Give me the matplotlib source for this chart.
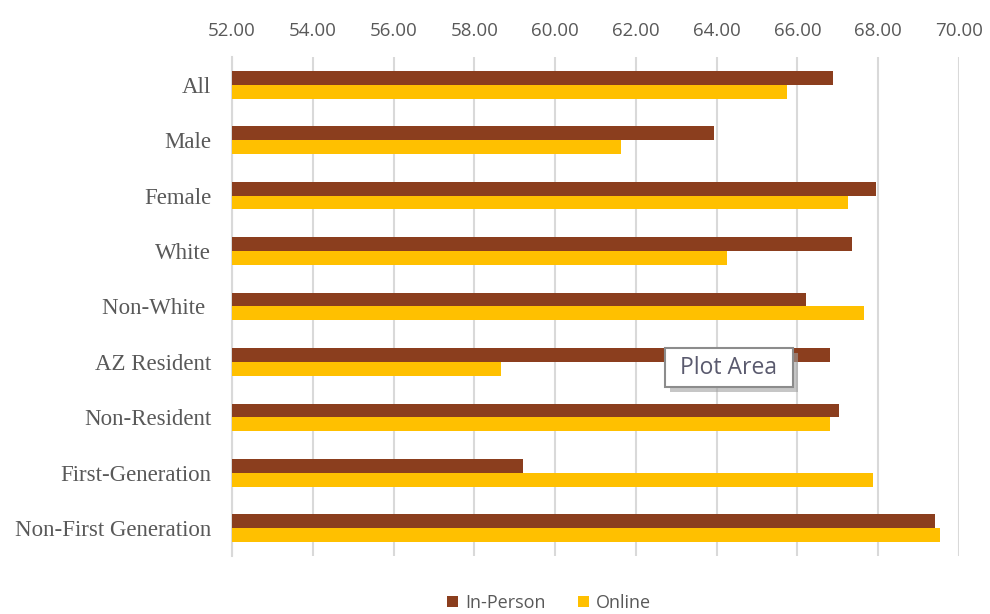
import matplotlib.pyplot as plt
from matplotlib.patches import Rectangle
import numpy as np

# data
categories = ['All', 'Male', 'Female', 'White', 'Non-White ', 'AZ Resident',
              'Non-Resident', 'First-Generation', 'Non-First Generation']
in_person = [66.87, 63.93, 67.94, 67.35, 66.22, 66.81, 67.02, 59.20, 69.41]
online = [65.75, 61.63, 67.25, 64.25, 67.66, 58.66, 66.81, 67.86, 69.52]
ticks = [52, 54, 56, 58, 60, 62, 64, 66, 68, 70]

C_IN = '#8B3E1E'
C_ON = '#FFC000'
C_TXT = '#595959'
C_GRID = '#D9D9D9'

W, H = 990, 614
fig = plt.figure(figsize=(W / 100, H / 100), dpi=100)
ax = fig.add_axes([232 / W, 58 / H, 727 / W, 499 / H])

y = np.arange(len(categories))
h = 0.25
ax.barh(y - h / 2, np.array(in_person) - 52, h, left=52, color=C_IN,
        label='In-Person', zorder=3)
ax.barh(y + h / 2, np.array(online) - 52, h, left=52, color=C_ON,
        label='Online', zorder=3)

ax.set_xlim(52, 70)
ax.set_ylim(len(categories) - 0.5, -0.5)
ax.set_xticks(ticks)
ax.set_xticklabels([f'{t:.2f}' for t in ticks], color=C_TXT,
                   fontsize=13.5, family='Open Sans')
ax.xaxis.tick_top()
ax.tick_params(axis='x', length=0, pad=12)
ax.set_yticks(y)
ax.set_yticklabels(categories, family='Liberation Serif', fontsize=16.5,
                   color=C_TXT)
ax.tick_params(axis='y', length=0, pad=15)
ax.grid(axis='x', color=C_GRID, linewidth=1.5, zorder=0)
for s in ['top', 'right', 'bottom']:
    ax.spines[s].set_visible(False)
ax.spines['left'].set_color(C_GRID)
ax.spines['left'].set_linewidth(1.5)

leg = fig.legend(loc='center', bbox_to_anchor=(549 / W, 1 - 603 / H),
                 ncol=2, frameon=False, handlelength=0.6, handleheight=0.6,
                 handletextpad=0.4, columnspacing=1.8,
                 prop={'family': 'Open Sans', 'size': 13})
for t in leg.get_texts():
    t.set_color(C_TXT)

# the "Plot Area" tooltip captured in the screenshot
bx, by, bw, bh = 665, 348, 128, 39
fig.patches.append(Rectangle(((bx + 5) / W, 1 - (by + bh + 5) / H), bw / W, bh / H,
                             transform=fig.transFigure, facecolor='#A0A0A0',
                             edgecolor='none', alpha=0.6, zorder=8))
fig.patches.append(Rectangle((bx / W, 1 - (by + bh) / H), bw / W, bh / H,
                             transform=fig.transFigure, facecolor='white',
                             edgecolor='#8C8C8C', linewidth=1.5, zorder=9))
fig.text((bx + bw / 2) / W, 1 - (by + bh / 2) / H, 'Plot Area', ha='center',
         va='center', fontsize=16.5, color='#5A5A6E', family='Open Sans',
         zorder=10)

fig.savefig('out.png', dpi=100, facecolor='white')
